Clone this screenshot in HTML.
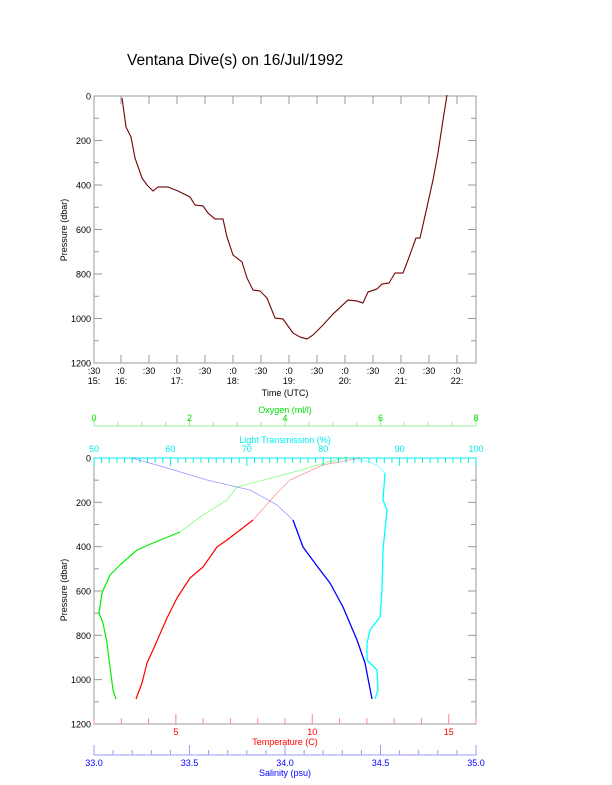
<!DOCTYPE html>
<html><head><meta charset="utf-8"><style>
html,body{margin:0;padding:0;background:#fff;}
svg{display:block;font-family:"Liberation Sans",sans-serif;}
</style></head><body>
<svg id="s" width="612" height="785" viewBox="0 0 612 785" xmlns="http://www.w3.org/2000/svg">
<rect width="612" height="785" fill="#fff"/>
<text x="127" y="65" font-size="15.5" fill="#000">Ventana Dive(s) on 16/Jul/1992</text>
<g id="g"></g>
</svg>
<script>
var g=document.getElementById('g'),h='';
function L(x1,y1,x2,y2,c){h+='<line x1="'+x1+'" y1="'+y1+'" x2="'+x2+'" y2="'+y2+'" stroke="'+c+'" stroke-width="1"/>';}
function T(x,y,t,c,a,s){h+='<text x="'+x+'" y="'+y+'" font-size="'+(s||9)+'" fill="'+c+'" text-anchor="'+(a||'middle')+'">'+t+'</text>';}
function P(pts,c,w,o){h+='<polyline fill="none" stroke="'+c+'" stroke-width="'+w+'" stroke-opacity="'+(o||1)+'" stroke-linejoin="round" points="'+pts+'"/>';}
var gr='#999';
var X0=94,X1=476,Y0=96,Y1=363;
h+='<rect x="'+X0+'" y="'+Y0+'" width="'+(X1-X0)+'" height="'+(Y1-Y0)+'" fill="none" stroke="'+gr+'"/>';
for(var p=0;p<=1200;p+=100){var y=Y0+p*(Y1-Y0)/1200;var len=p%200==0?8:5;L(X0,y,X0+len,y,gr);L(X1,y,X1-len,y,gr);if(p%200==0)T(X0-3,y+3.5,p,'#000','end');}
for(var k=0;k<=13;k++){var x=93+28*k;if(x<X0)x=X0;L(x,Y1,x,Y1-8,gr);L(x,Y0,x,Y0+8,gr);
 if(k%2==0){T(x,374,':30','#000');}else{T(x,374,':0','#000');}
}
var hrs=['15:','16:','17:','18:','19:','20:','21:','22:'];
T(94,384,'15:','#000');for(var i=1;i<8;i++)T(121+56*(i-1),384,hrs[i],'#000');
T(285,396,'Time (UTC)','#000');
h+='<text transform="translate(67,230) rotate(-90)" font-size="9" text-anchor="middle" fill="#000">Pressure (dbar)</text>';
var dive='122,98 126,127 131,137 135,158 142,178 147,185 153,191 158,187 168,187 178,191 190,197 195,205 203,206 208,213 215,219 223,219 227,237 233,255 242,262 247,278 253,290 260,291 267,298 275,318 283,319 293,333 300,337 307,339 313,335 323,325 333,314 348,300 357,301 363,303 368,292 377,289 382,284 389,283 395,273 403,273 408,260 416,238 420,238 427,207 433,180 438,153 443,120 447,95';
P(dive,'#c33',1.2);P(dive,'#200',0.7,0.8);
var B0=458,B1=724;
h+='<rect x="'+X0+'" y="'+B0+'" width="'+(X1-X0)+'" height="'+(B1-B0)+'" fill="none" stroke="'+gr+'"/>';
for(p=0;p<=1200;p+=100){y=B0+p*(B1-B0)/1200;len=p%200==0?8:5;L(X0,y,X0+len,y,gr);L(X1,y,X1-len,y,gr);if(p%200==0)T(X0-3,y+3.5,p,'#000','end');}
h+='<text transform="translate(67,590) rotate(-90)" font-size="9" text-anchor="middle" fill="#000">Pressure (dbar)</text>';
var cy='#0ee';L(X0,B0,X1,B0,cy);
for(var v=50;v<=100;v++){x=X0+(v-50)*(X1-X0)/50;L(x,B0,x,B0+(v%10==0?8:5),cy);if(v%10==0)T(x,452,v,cy);}
T(285,443,'Light Transmission (%)',cy);
var gn='#0d0';L(X0,426,X1,426,'#9e9');
for(v=0;v<=16;v++){x=X0+v*(X1-X0)/16;L(x,426,x,v%4==0?418:422,'#9e9');if(v%4==0)T(x,421,v/2,gn);}
T(285,413,'Oxygen (ml/l)',gn);
var rd='#f00';
for(v=2;v<=16;v++){x=X0+(v-2)*(X1-X0)/14;L(x,B1,x,B1-(v%5==0?10:6),'#f88');if(v%5==0)T(x,735,v,rd);}
T(285,745,'Temperature (C)',rd);
var bl='#00f';L(X0,755,X1,755,'#99f');
for(v=0;v<=20;v++){x=X0+v*(X1-X0)/20;L(x,755,x,v%5==0?745:750,'#99f');if(v%5==0)T(x,766,(33+v/10).toFixed(1),bl);}
T(285,776,'Salinity (psu)',bl);
P('347,457 290,473 237,487 227,500 200,517 180,532','#0f0',0.8,0.5);
P('180,532 153,543 137,550 120,565 110,575 102,593 99,613 103,623 107,643 110,667 113,690 116,699','#0e0',1.2);
P('360,458 323,465 290,480 277,493 253,520','#f00',0.8,0.4);
P('253,520 227,540 217,547 203,567 190,578 177,598 167,618 153,650 147,663 142,683 136,699','#f00',1.2);
P('132,458 167,468 207,480 250,490 277,505 293,520','#00f',0.8,0.4);
P('293,520 303,547 320,570 330,583 343,607 357,640 365,663 372,699','#00f',1.3);
P('353,457 377,465 385,473','#0ff',0.8,0.5);
P('385,473 383,500 387,510 383,550 382,590 380,617 370,630 367,643 367,660 377,670 378,690 375,699','#0ff',1.3);
g.innerHTML=h;
</script>
</body></html>
